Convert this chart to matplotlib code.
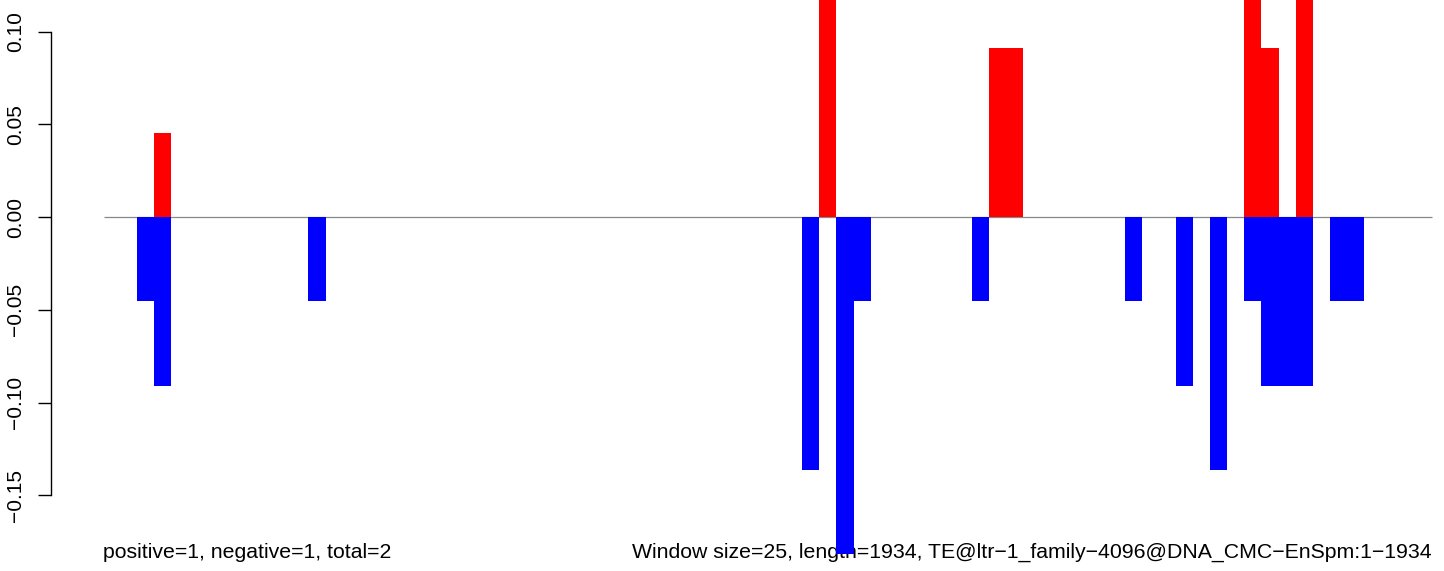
import matplotlib
matplotlib.use("Agg")
import matplotlib.pyplot as plt

plt.rcParams['font.family'] = ['Liberation Sans', 'DejaVu Sans']

# sequence / window info
seq_length = 1934
window = 25

# windows with negative counts (blue): start position in bp, value
neg_start = [48, 73, 298, 1017, 1067, 1092, 1264, 1487, 1561, 1611,
             1660, 1686, 1711, 1736, 1786, 1811]
neg_val = [-0.0455, -0.0909, -0.0455, -0.1364, -0.1818, -0.0455, -0.0455,
           -0.0455, -0.0909, -0.1364, -0.0455, -0.0909, -0.0909, -0.0909,
           -0.0455, -0.0455]

# windows with positive counts (red)
pos_start = [73, 1042, 1289, 1314, 1660, 1686, 1736]
pos_val = [0.0455, 0.1364, 0.0909, 0.0909, 0.1364, 0.0909, 0.1364]

yticks = [-0.15, -0.10, -0.05, 0.00, 0.05, 0.10]
left_label = "positive=1, negative=1, total=2"
right_label = "Window size=25, length=1934, TE@ltr\u22121_family\u22124096@DNA_CMC\u2212EnSpm:1\u22121934"

W, H = 1444, 571
fig = plt.figure(figsize=(W / 100, H / 100), dpi=100)
ax = fig.add_axes([51 / W, 0, (W - 51) / W, 1])

ax.bar(neg_start, neg_val, width=window, align='edge', color='#0000ff',
       linewidth=0, zorder=2)
ax.bar(pos_start, pos_val, width=window, align='edge', color='#ff0000',
       linewidth=0, zorder=2)
ax.hlines(0, 0, seq_length, color='#888888', linewidth=0.9, zorder=1.5)

ax.set_xlim(-77, 1952)
ax.set_ylim(-(H - 217) / 1855, 217 / 1855)

for s in ['top', 'right', 'bottom']:
    ax.spines[s].set_visible(False)
ax.spines['left'].set_bounds(-0.15, 0.10)
ax.spines['left'].set_linewidth(1.0)
ax.set_xticks([])
ax.set_yticks(yticks)
ax.set_yticklabels([f"{v:.2f}".replace("-", "\u2212") for v in yticks],
                   rotation=90, va='center')
ax.tick_params(axis='y', length=9.5, width=1.0, pad=9, labelsize=15)

ax.text(103 / W, 1 - 552 / H, left_label, transform=fig.transFigure,
        ha='left', va='center', fontsize=15.3, zorder=1)
ax.text(1432 / W, 1 - 552 / H, right_label, transform=fig.transFigure,
        ha='right', va='center', fontsize=15.3, zorder=1)

fig.savefig("out.png", dpi=100)
